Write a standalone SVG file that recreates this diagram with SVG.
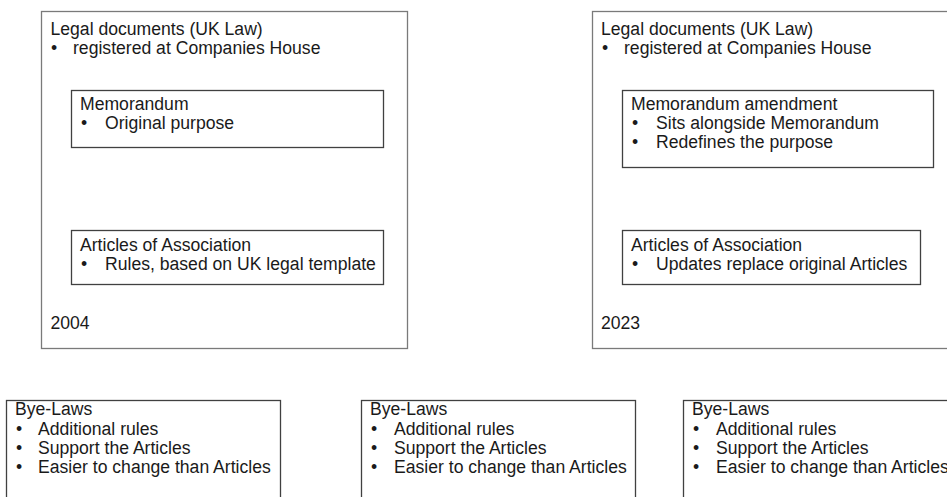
<svg xmlns="http://www.w3.org/2000/svg" width="947" height="497" viewBox="0 0 947 497">
<style>
.outer{fill:#fff;stroke:#7a7a7a;stroke-width:1.3}
.inner{fill:#fff;stroke:#404040;stroke-width:1.3}
text{font-family:"Liberation Sans",Arial,sans-serif;font-size:17.6px;fill:#1a1a1a}
</style>
<rect width="947" height="497" fill="#fff"/>
<g id="legal2004">
<rect class="outer" x="41.5" y="11.5" width="366" height="337"/>
<text x="50.5" y="35">Legal documents (UK Law)</text>
<text x="51" y="54">•</text><text x="73" y="54">registered at Companies House</text>
<text x="50.5" y="329">2004</text>
</g>
<g id="memorandum">
<rect class="inner" x="71.5" y="90.5" width="312" height="57"/>
<text x="80" y="110">Memorandum</text>
<text x="81" y="129">•</text><text x="105" y="129">Original purpose</text>
</g>
<g id="articles2004">
<rect class="inner" x="71.5" y="230.5" width="312" height="54"/>
<text x="80" y="251">Articles of Association</text>
<text x="81" y="270">•</text><text x="105" y="270">Rules, based on UK legal template</text>
</g>
<g id="legal2023">
<rect class="outer" x="592.5" y="11.5" width="370" height="337"/>
<text x="601" y="35">Legal documents (UK Law)</text>
<text x="602" y="54">•</text><text x="624" y="54">registered at Companies House</text>
<text x="601" y="329">2023</text>
</g>
<g id="memoAmendment">
<rect class="inner" x="622.5" y="90.5" width="311" height="77"/>
<text x="631" y="110">Memorandum amendment</text>
<text x="632" y="129">•</text><text x="656" y="129">Sits alongside Memorandum</text>
<text x="632" y="148">•</text><text x="656" y="148">Redefines the purpose</text>
</g>
<g id="articles2023">
<rect class="inner" x="622.5" y="230.5" width="298" height="54"/>
<text x="631" y="251">Articles of Association</text>
<text x="632" y="270">•</text><text x="656" y="270">Updates replace original Articles</text>
</g>
<g id="byelaws1">
<rect class="inner" x="6.5" y="400.5" width="274" height="110"/>
<text x="15" y="415">Bye-Laws</text>
<text x="16" y="435">•</text><text x="38" y="435">Additional rules</text>
<text x="16" y="454">•</text><text x="38" y="454">Support the Articles</text>
<text x="16" y="473">•</text><text x="38" y="473">Easier to change than Articles</text>
</g>
<g id="byelaws2">
<rect class="inner" x="361.5" y="400.5" width="274" height="110"/>
<text x="370" y="415">Bye-Laws</text>
<text x="371" y="435">•</text><text x="394" y="435">Additional rules</text>
<text x="371" y="454">•</text><text x="394" y="454">Support the Articles</text>
<text x="371" y="473">•</text><text x="394" y="473">Easier to change than Articles</text>
</g>
<g id="byelaws3">
<rect class="inner" x="683.5" y="400.5" width="274" height="110"/>
<text x="692" y="415">Bye-Laws</text>
<text x="693" y="435">•</text><text x="716" y="435">Additional rules</text>
<text x="693" y="454">•</text><text x="716" y="454">Support the Articles</text>
<text x="693" y="473">•</text><text x="716" y="473">Easier to change than Articles</text>
</g>
<g id="connectors"></g>
</svg>
